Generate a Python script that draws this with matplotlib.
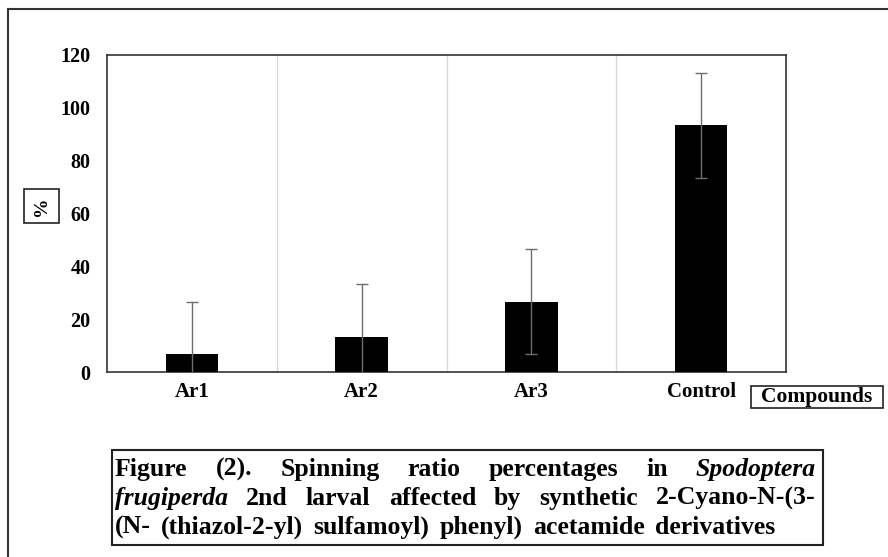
import numpy as np
import matplotlib
matplotlib.use("Agg")
import matplotlib.pyplot as plt
from matplotlib.lines import Line2D

# данные
compounds = ["Ar1", "Ar2", "Ar3", "Control"]
spinning = [6.67, 13.33, 26.67, 93.33]
errors = [20, 20, 20, 20]
yticks = [0, 20, 40, 60, 80, 100, 120]

plt.rcParams["font.family"] = ["Liberation Serif", "DejaVu Serif"]
plt.rcParams["font.weight"] = "bold"

W, H = 888, 557
fig = plt.figure(figsize=(W / 100, H / 100), dpi=100)
ax = fig.add_axes([107 / W, 1 - 372 / H, (786 - 107) / W, (372 - 55) / H])

x = np.arange(len(compounds))
ax.bar(x, spinning, width=0.31, color="black", zorder=3)
ax.errorbar(x, spinning, yerr=errors, fmt="none", ecolor="#6e6e6e",
            elinewidth=1, capsize=4, capthick=1, zorder=4)

ax.set_xlim(-0.5, len(compounds) - 0.5)
ax.set_ylim(0, 120)
ax.set_yticks(yticks)
ax.set_xticks(x)
ax.set_xticklabels(compounds, fontsize=15, fontweight="bold")
ax.tick_params(axis="y", length=0, pad=12, labelsize=14.5)
ax.tick_params(axis="x", length=0, pad=7)
for lab in ax.get_yticklabels():
    lab.set_fontweight("bold")

for b in [0.5, 1.5, 2.5]:
    ax.axvline(b, color="#d9d9d9", lw=1, zorder=1)
for s in ax.spines.values():
    s.set_color("#333333")
    s.set_linewidth(1.2)


def box(x0, y0, x1, y1, lw=1.2):
    fig.add_artist(plt.Rectangle((x0 / W, 1 - y1 / H), (x1 - x0) / W, (y1 - y0) / H,
                                 transform=fig.transFigure, fill=False,
                                 ec="#222222", lw=lw))


# подписи осей в рамках
box(24, 189, 59, 223)
fig.text(41.5 / W, 1 - 206 / H, "%", rotation=90, ha="center", va="center",
         fontsize=14, fontweight="bold")
box(751, 386, 883, 408)
fig.text(817 / W, 1 - 397 / H, "Compounds", ha="center", va="center",
         fontsize=15.5, fontweight="bold")

# внешняя рамка
fig.add_artist(Line2D([8 / W, 8 / W], [0, 1 - 9 / H], color="#333333", lw=1.5))
fig.add_artist(Line2D([8 / W, 1], [1 - 9 / H, 1 - 9 / H], color="#333333", lw=1.5))

# подпись рисунка, выровненная по ширине
cap_lines = [
    [("Figure", "normal"), ("(2).", "normal"), ("Spinning", "normal"), ("ratio", "normal"),
     ("percentages", "normal"), ("in", "normal"), ("Spodoptera", "italic")],
    [("frugiperda", "italic"), ("2nd", "normal"), ("larval", "normal"), ("affected", "normal"),
     ("by", "normal"), ("synthetic", "normal"), ("2-Cyano-N-(3-", "normal")],
    [("(N-", "normal"), ("(thiazol-2-yl)", "normal"), ("sulfamoyl)", "normal"),
     ("phenyl)", "normal"), ("acetamide", "normal"), ("derivatives", "normal")],
]
x0, x1 = 115, 816
line_y = [476, 505, 534]
fs = 18.5
fig.canvas.draw()
renderer = fig.canvas.get_renderer()
for i, words in enumerate(cap_lines):
    texts = []
    for w, st in words:
        t = fig.text(0, 1 - line_y[i] / H, w, fontsize=fs, fontweight="bold",
                     fontstyle=st, va="baseline", ha="left")
        texts.append(t)
    widths = [t.get_window_extent(renderer).width for t in texts]
    if i < len(cap_lines) - 1:
        gap = (x1 - x0 - sum(widths)) / (len(texts) - 1)
    else:
        gap = fs * 0.55
    pos = x0
    for t, wd in zip(texts, widths):
        t.set_x(pos / W)
        pos += wd + gap

box(112, 450, 823, 545, lw=1.5)

fig.savefig("out.png", dpi=100)
